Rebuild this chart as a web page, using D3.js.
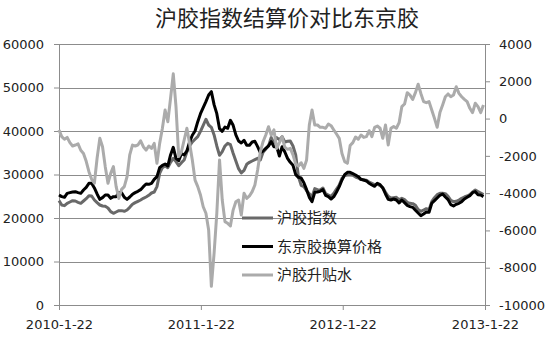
<!DOCTYPE html>
<html>
<head>
<meta charset="utf-8">
<script src="https://cdn.jsdelivr.net/npm/d3@7/dist/d3.min.js"></script>
<style>
  body { margin: 0; background: #fff; }
  svg text { font-family: "DejaVu Sans", sans-serif; fill: #222; }
</style>
</head>
<body>
<script>
// weekly readings, first week 2010-01-22
var firstWeek = '2010-01-22';

var shfeIndex = [
  24000, 23000, 22840, 23380, 23680, 23990, 23910, 23610, 23380, 23910,
  24450, 25140, 25060, 24140, 23530, 22990, 22760, 22680, 22300, 21460,
  21080, 21380, 21690, 21690, 21540, 21840, 22450, 23150, 23530, 23840,
  24140, 24520, 24830, 25220, 25750, 25980, 27210, 30270, 31570, 32030,
  31570, 32800, 33720, 32950, 32030, 32720, 33340, 35180, 36560, 37470,
  38090, 38700, 39930, 41310, 42700, 41380, 40850, 39090, 36560, 34410,
  35250, 36560, 37170, 36860, 34870, 33110, 31350, 30350, 30960, 32340,
  32800, 33110, 33410, 33720, 33340, 35100, 35870, 36560, 38500, 37170,
  38470, 38010, 38700, 37470, 37630, 37700, 36560, 34490, 29500, 27510,
  27210, 26290, 25600, 24910, 26750, 26520, 26440, 26900, 25600, 25290,
  24990, 25670, 26670, 27590, 29120, 29740, 29890, 29890, 29810, 29430,
  29200, 28820, 28740, 28660, 28280, 27970, 27670, 27820, 27440, 26980,
  25900, 24990, 24600, 24680, 24750, 24220, 24520, 24220, 23610, 23380,
  23300, 22910, 21920, 21540, 21840, 22150, 21920, 23760, 24680, 25370,
  25670, 25670, 25600, 24990, 24060, 23760, 23840, 24140, 24520, 24830,
  25060, 25370, 25980, 26440, 26060, 25750, 25370
];

var tocomPrice = [
  25290, 24910, 24760, 25670, 25830, 25980, 26060, 25830, 25670, 26440,
  27050, 27970, 27970, 26900, 25520, 24290, 24680, 25290, 25290, 24520,
  24910, 24910, 25830, 25830, 24760, 24290, 24830, 25440, 25830, 26130,
  26520, 27210, 27820, 27740, 27970, 28890, 29500, 31570, 32110, 32420,
  31960, 34490, 36250, 33720, 33180, 34790, 34490, 35410, 37470, 39010,
  40000, 42150, 43990, 45370, 46750, 48280, 49050, 46060, 43990, 40540,
  39930, 40920, 40620, 42460, 41310, 39090, 37700, 37240, 37860, 36710,
  36710, 37470, 37630, 36400, 35020, 35410, 36020, 36560, 37550, 36400,
  36400, 34260, 36400, 35180, 33720, 32800, 32110, 29970, 29350, 29200,
  28120, 26520, 24750, 23760, 25900, 25980, 26130, 26520, 25220, 24910,
  24370, 24910, 25980, 27210, 28740, 29970, 30500, 30500, 30200, 29890,
  29500, 28890, 28740, 28510, 27970, 27590, 27280, 27970, 27670, 26900,
  25520, 24290, 24140, 24370, 24140, 23450, 24140, 23530, 22910, 22610,
  22450, 21770, 21150, 20540, 20920, 21380, 21310, 23380, 23990, 24600,
  25220, 25520, 24830, 24220, 23070, 22760, 23140, 23380, 23760, 24370,
  24750, 25140, 25830, 26060, 25370, 25290, 24910
];

var premium = [
  -610, -970, -1110, -1010, -1290, -1470, -1420, -1360, -1700, -1870,
  -2290, -2850, -3260, -3470, -2130, -1060, -1510, -2580, -3470, -2940,
  -2580, -3650, -4280, -3800, -3650, -3120, -1950, -1420, -1470, -1420,
  -1190, -1510, -1690, -1470, -1600, -1330, -2400, -1330, -520, 460,
  -170, 1090, 2400, 640, -2040, -1780, -1150, -520, -1330, -2220,
  -3300, -3650, -4100, -4730, -5080, -5980, -9000, -7230, -5080, -2220,
  -4370, -5530, -5620, -5760, -4910, -4460, -4370, -5170, -4010, -4280,
  -4150, -3920, -3560, -2760, -1780, -1240, -880, -440, -880, -610,
  -1600, -1290, -970, -1540, -1650, -1600, -1950, -2440, -2540, -2370,
  -2670, -2220, -345, 460, -345, -345, -470, -470, -520, -290,
  -380, -610, -830, -1060, -1870, -2310, -2400, -1450, -1290, -990,
  -1110, -880, -1010, -970, -650, -970, -470, -400, -520, -1060,
  -345, -1420, -520, -430, -520, -220, 640, 780, 1390, 1260,
  1030, 1390, 1840, 1350, 910, 850, 910, 460, 10, -470,
  320, 730, 1170, 1320, 1170, 1260, 1710, 1350, 1170, 1030,
  910, 550, 320, 820, 640, 320, 730
];

var xTickDates = ['2010-01-22', '2011-01-22', '2012-01-22', '2013-01-22'];
var leftTicks = [0, 10000, 20000, 30000, 40000, 50000, 60000];
var rightTicks = [-10000, -8000, -6000, -4000, -2000, 0, 2000, 4000];
var seriesNames = ['沪胶指数', '东京胶换算价格', '沪胶升贴水'];
var seriesColors = ['#696969', '#000000', '#ababab'];

var width = 550, height = 341;
var plot = { left: 59, right: 485, top: 44, bottom: 305 };

var parse = d3.timeParse('%Y-%m-%d');
var start = parse(firstWeek);
var dates = shfeIndex.map(function(d, i) { return d3.timeDay.offset(start, 7 * i); });

var svg = d3.select('body').append('svg')
    .attr('width', width)
    .attr('height', height);

var x = d3.scaleTime()
    .domain([parse(xTickDates[0]), parse(xTickDates[3])])
    .range([plot.left, plot.right]);
var yL = d3.scaleLinear().domain([0, 60000]).range([plot.bottom, plot.top]);
var yR = d3.scaleLinear().domain([-10000, 4000]).range([plot.bottom, plot.top]);

// gridlines
svg.append('g').selectAll('line')
    .data(leftTicks.slice(1))
    .enter().append('line')
    .attr('x1', plot.left).attr('x2', plot.right)
    .attr('y1', function(d) { return Math.round(yL(d)) + 0.5; })
    .attr('y2', function(d) { return Math.round(yL(d)) + 0.5; })
    .attr('stroke', '#8c8c8c')
    .attr('stroke-width', 1);

function styleAxis(g) {
  g.selectAll('.domain').attr('stroke', '#8c8c8c');
  g.selectAll('.tick line').attr('stroke', '#8c8c8c');
  g.selectAll('text').style('font-size', '13px').attr('fill', '#222');
}

svg.append('g')
    .attr('transform', 'translate(' + plot.left + ',0)')
    .call(d3.axisLeft(yL).tickValues(leftTicks).tickSize(5).tickSizeOuter(0).tickPadding(10).tickFormat(d3.format('d')))
    .call(styleAxis);

svg.append('g')
    .attr('transform', 'translate(' + plot.right + ',0)')
    .call(d3.axisRight(yR).tickValues(rightTicks).tickSize(5).tickSizeOuter(0).tickPadding(9).tickFormat(function(d) { return d < 0 ? '-' + Math.abs(d) : d; }))
    .call(styleAxis);

svg.append('g')
    .attr('transform', 'translate(0,' + plot.bottom + ')')
    .call(d3.axisBottom(x).tickValues(xTickDates.map(parse)).tickSize(5).tickSizeOuter(0).tickPadding(10).tickFormat(d3.timeFormat('%Y-%-m-%d')))
    .call(styleAxis);

// series
var lineL = d3.line()
    .x(function(d, i) { return x(dates[i]); })
    .y(function(d) { return yL(d); });
var lineR = d3.line()
    .x(function(d, i) { return x(dates[i]); })
    .y(function(d) { return yR(d); });

svg.append('path').datum(shfeIndex)
    .attr('d', lineL).attr('fill', 'none')
    .attr('stroke', seriesColors[0]).attr('stroke-width', 3).attr('stroke-linejoin', 'round');
svg.append('path').datum(tocomPrice)
    .attr('d', lineL).attr('fill', 'none')
    .attr('stroke', seriesColors[1]).attr('stroke-width', 3).attr('stroke-linejoin', 'round');
svg.append('path').datum(premium)
    .attr('d', lineR).attr('fill', 'none')
    .attr('stroke', seriesColors[2]).attr('stroke-width', 3).attr('stroke-linejoin', 'round');

// legend
var legend = svg.selectAll('g.legend')
    .data(seriesNames)
    .enter().append('g')
    .attr('class', 'legend')
    .attr('transform', function(d, i) { return 'translate(242,' + (218 + i * 28.5) + ')'; });

legend.append('line')
    .attr('x1', 0).attr('x2', 31)
    .attr('y1', 0).attr('y2', 0)
    .attr('stroke', function(d, i) { return seriesColors[i]; })
    .attr('stroke-width', 3);

legend.append('text')
    .attr('x', 35)
    .attr('dy', '0.35em')
    .style('font-family', '"Noto Sans CJK SC", sans-serif')
    .style('font-size', '15px')
    .attr('fill', '#333')
    .text(function(d) { return d; });

// title
svg.append('text')
    .attr('x', 287)
    .attr('y', 26)
    .attr('text-anchor', 'middle')
    .style('font-family', '"Noto Sans CJK SC", sans-serif')
    .style('font-size', '22px')
    .text('沪胶指数结算价对比东京胶');
</script>
</body>
</html>
